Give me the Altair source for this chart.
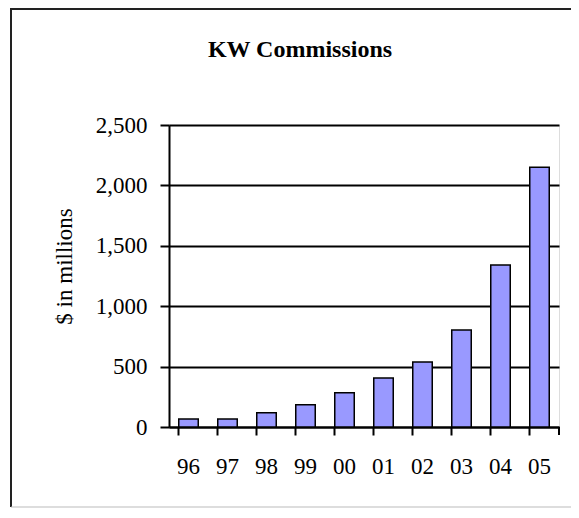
import altair as alt
import pandas as pd

years = ["96", "97", "98", "99", "00", "01", "02", "03", "04", "05"]
commissions = [66, 66, 118, 185, 284, 405, 538, 803, 1341, 2150]
y_ticks = [0, 500, 1000, 1500, 2000, 2500]
chart_title = "KW Commissions"

df = pd.DataFrame({"year": years, "value": commissions})

FONT = "Liberation Serif"
W, H = 390, 302
PAD_L, PAD_T, PAD_R, PAD_B = 161, 117, 12, 81

bars = alt.Chart(df).mark_bar(
    fill="#9999FF", stroke="black", strokeWidth=1.5
).encode(
    x=alt.X("year:N", sort=years,
            scale=alt.Scale(paddingInner=0.5, paddingOuter=0.25),
            axis=alt.Axis(title=None, labelAngle=0, bandPosition=0,
                          tickSize=8, tickWidth=2, tickColor="black",
                          domainColor="black", domainWidth=2,
                          labelFont=FONT, labelFontSize=23, labelColor="black",
                          labelPadding=20)),
    y=alt.Y("value:Q", scale=alt.Scale(domain=[0, 2500], nice=False),
            axis=alt.Axis(title="$ in millions", values=y_ticks, format=",.0f",
                          grid=True, gridColor="black", gridWidth=2,
                          tickSize=9, tickWidth=2, tickColor="black",
                          domainColor="black", domainWidth=2,
                          labelFont=FONT, labelFontSize=23, labelColor="black",
                          labelPadding=13,
                          titleFont=FONT, titleFontSize=23, titleFontWeight="normal",
                          titleColor="black", titleAngle=-90, titleAlign="center",
                          titleBaseline="middle", titleX=-105, titleY=141)),
)

one = alt.Data(values=[{"t": chart_title}])
title_mark = alt.Chart(one).mark_text(
    font=FONT, fontSize=24, fontWeight="bold", color="black",
    align="center", baseline="alphabetic"
).encode(x=alt.value(131), y=alt.value(-68), text="t:N")
last_tick = alt.Chart(one).mark_rule(color="black", strokeWidth=2).encode(
    x=alt.value(W), y=alt.value(H), y2=alt.value(H + 8))
frame_left = alt.Chart(one).mark_rule(color="#222222", strokeWidth=2).encode(
    x=alt.value(-PAD_L + 3), y=alt.value(-PAD_T + 1), y2=alt.value(H + PAD_B - 1))
frame_top = alt.Chart(one).mark_rule(color="#222222", strokeWidth=2).encode(
    x=alt.value(-PAD_L + 2), x2=alt.value(W + PAD_R), y=alt.value(-PAD_T + 1))
frame_bottom = alt.Chart(one).mark_rule(color="#bbbbbb", strokeWidth=1).encode(
    x=alt.value(-PAD_L + 3), x2=alt.value(W + PAD_R), y=alt.value(H + PAD_B - 1))

chart = alt.layer(bars, last_tick, frame_left, frame_top, frame_bottom, title_mark).properties(
    width=W, height=H,
    autosize=alt.AutoSizeParams(type="none"),
    padding={"left": PAD_L, "top": PAD_T, "right": PAD_R, "bottom": PAD_B},
).configure_view(stroke="black", strokeWidth=2).configure(background="white")

chart.save("out.html", embed_options={"renderer": "svg", "actions": False})
